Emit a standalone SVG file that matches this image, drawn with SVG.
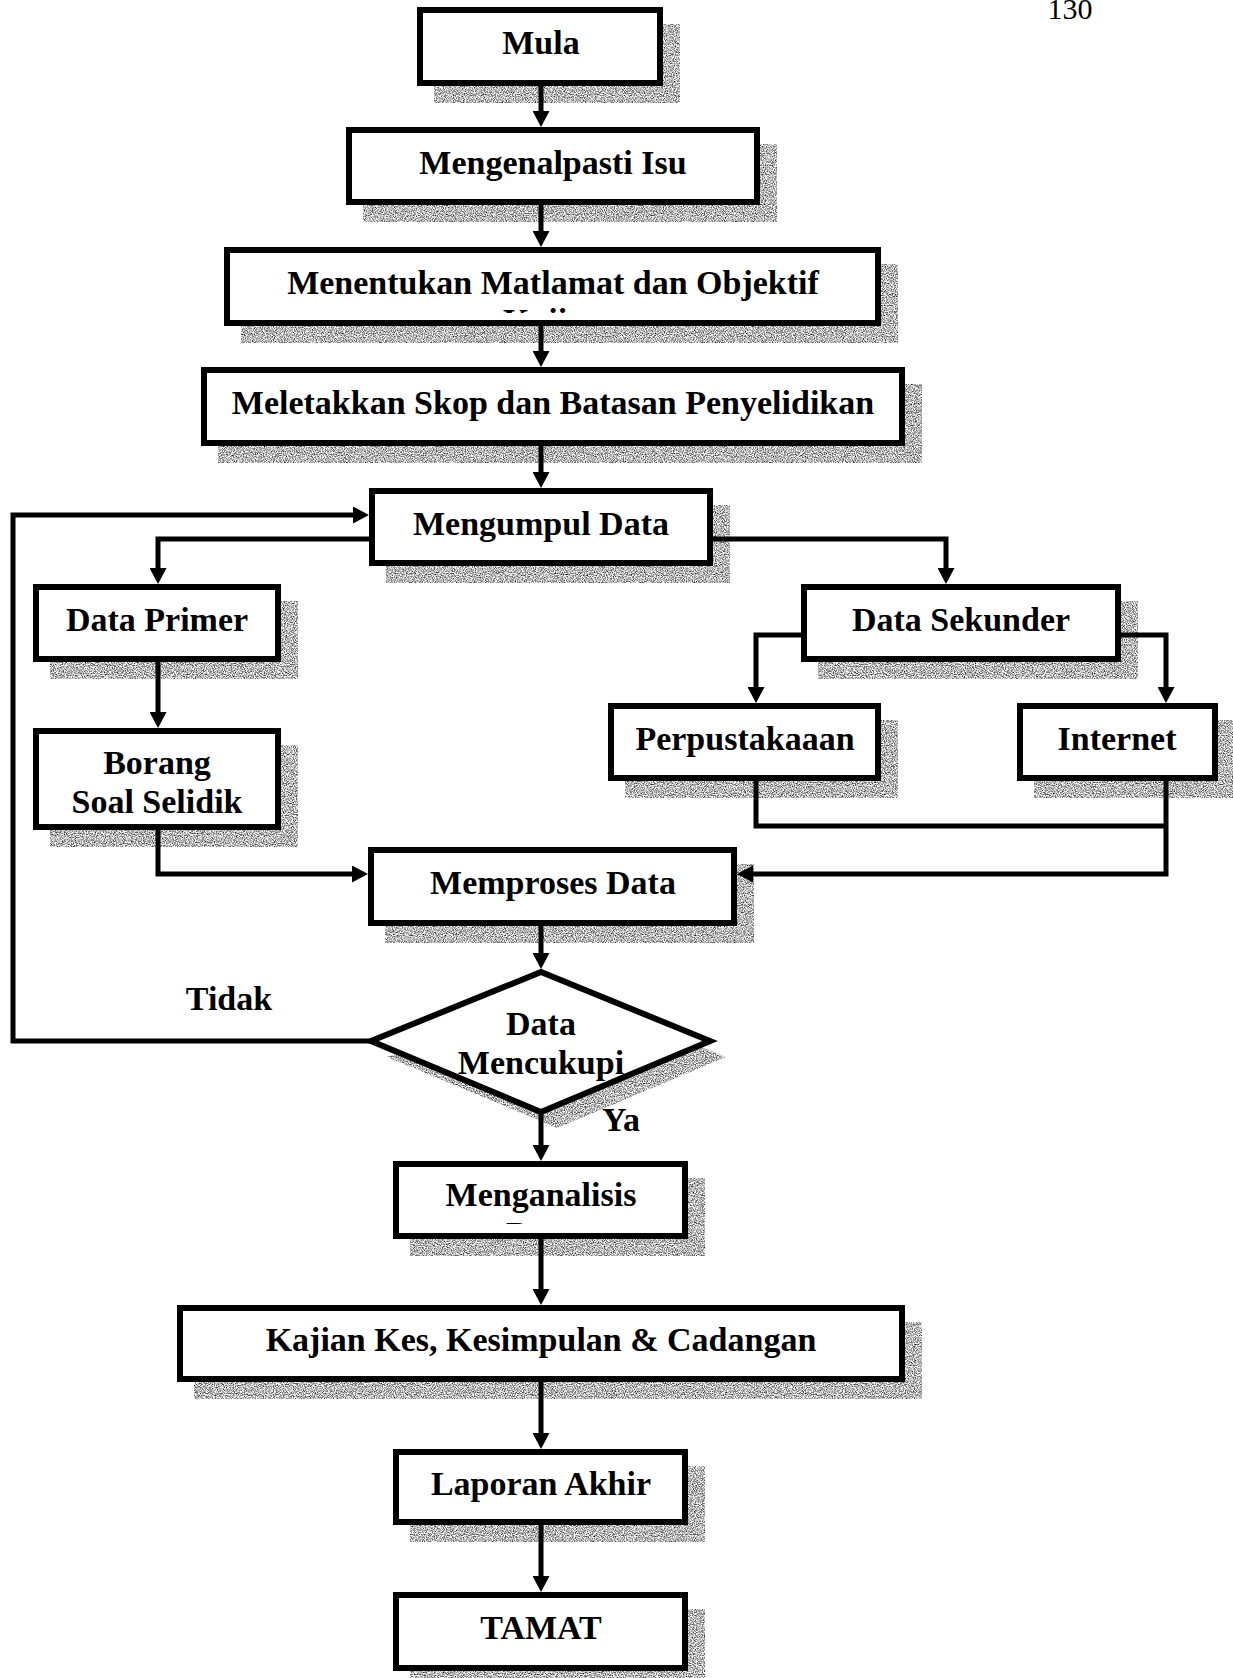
<svg xmlns="http://www.w3.org/2000/svg" width="1233" height="1678" viewBox="0 0 1233 1678">
<style>
  .box{fill:#fff;stroke:#000;stroke-width:6}
  .shadow{fill:#000}
  .lbl{font-family:"Liberation Serif","Times New Roman",serif;font-weight:bold;font-size:34px;text-anchor:middle;fill:#000}
  .page{font-family:"Liberation Serif","Times New Roman",serif;font-size:30px;text-anchor:middle;fill:#000}
  #connectors path{fill:none;stroke:#000;stroke-width:5;stroke-linejoin:miter}
  #connectors path.arrow{marker-end:url(#head)}
</style>
<defs>
  <!-- grainy grey fill used for the drop shadows -->
  <filter id="grain" x="-10%" y="-10%" width="120%" height="120%" color-interpolation-filters="sRGB">
    <feTurbulence type="fractalNoise" baseFrequency="0.9" numOctaves="2" seed="7" result="noise"/>
    <feColorMatrix in="noise" type="matrix" values="1.8 0 0 0 -0.18  1.8 0 0 0 -0.18  1.8 0 0 0 -0.18  0 0 0 0 1" result="gray"/>
    <feComposite in="gray" in2="SourceAlpha" operator="in"/>
  </filter>
  <marker id="head" markerUnits="userSpaceOnUse" markerWidth="17" markerHeight="17" refX="8" refY="8.5" orient="auto" viewBox="0 0 17 17">
    <path d="M0,0 L16,8.5 L0,17 Z" fill="#000"/>
  </marker>
  <!-- second text lines overflow their boxes and are cut off -->
  <clipPath id="clipObjektif"><rect x="230" y="253" width="645" height="60"/></clipPath>
  <clipPath id="clipAnalisis"><rect x="399" y="1167" width="283" height="57"/></clipPath>
</defs>

<rect width="1233" height="1678" fill="#fff"/>

<text class="page" x="1070" y="19">130</text>

<g id="mula">
  <rect class="shadow" filter="url(#grain)" x="434" y="24" width="246" height="79"/>
  <rect class="box" x="420" y="10" width="240" height="73"/>
  <text class="lbl" x="541" y="54">Mula</text>
</g>

<g id="kenal-isu">
  <rect class="shadow" filter="url(#grain)" x="363" y="144" width="414" height="78"/>
  <rect class="box" x="349" y="130" width="408" height="72"/>
  <text class="lbl" x="553" y="174">Mengenalpasti Isu</text>
</g>

<g id="matlamat">
  <rect class="shadow" filter="url(#grain)" x="241" y="264" width="657" height="79"/>
  <rect class="box" x="227" y="250" width="651" height="73"/>
  <g clip-path="url(#clipObjektif)">
    <text class="lbl" x="553" y="294">Menentukan Matlamat dan Objektif</text>
    <text class="lbl" x="553" y="332">Kajian</text>
  </g>
</g>

<g id="skop">
  <rect class="shadow" filter="url(#grain)" x="218" y="384" width="704" height="79"/>
  <rect class="box" x="204" y="370" width="698" height="73"/>
  <text class="lbl" x="553" y="414">Meletakkan Skop dan Batasan Penyelidikan</text>
</g>

<g id="kumpul-data">
  <rect class="shadow" filter="url(#grain)" x="386" y="505" width="344" height="78"/>
  <rect class="box" x="372" y="491" width="338" height="72"/>
  <text class="lbl" x="541" y="535">Mengumpul Data</text>
</g>

<g id="data-primer">
  <rect class="shadow" filter="url(#grain)" x="50" y="601" width="248" height="78"/>
  <rect class="box" x="36" y="587" width="242" height="72"/>
  <text class="lbl" x="157" y="631">Data Primer</text>
</g>

<g id="borang">
  <rect class="shadow" filter="url(#grain)" x="50" y="745" width="248" height="102"/>
  <rect class="box" x="36" y="731" width="242" height="96"/>
  <text class="lbl" x="157" y="774">Borang</text>
  <text class="lbl" x="157" y="813">Soal Selidik</text>
</g>

<g id="data-sekunder">
  <rect class="shadow" filter="url(#grain)" x="818" y="601" width="320" height="78"/>
  <rect class="box" x="804" y="587" width="314" height="72"/>
  <text class="lbl" x="961" y="631">Data Sekunder</text>
</g>

<g id="perpustakaan">
  <rect class="shadow" filter="url(#grain)" x="625" y="720" width="273" height="78"/>
  <rect class="box" x="611" y="706" width="267" height="72"/>
  <text class="lbl" x="745" y="750">Perpustakaaan</text>
</g>

<g id="internet">
  <rect class="shadow" filter="url(#grain)" x="1034" y="720" width="201" height="78"/>
  <rect class="box" x="1020" y="706" width="195" height="72"/>
  <text class="lbl" x="1117" y="750">Internet</text>
</g>

<g id="proses-data">
  <rect class="shadow" filter="url(#grain)" x="385" y="864" width="369" height="79"/>
  <rect class="box" x="371" y="850" width="363" height="73"/>
  <text class="lbl" x="553" y="894">Memproses Data</text>
</g>

<g id="cukup">
  <polygon class="shadow" filter="url(#grain)" points="387,1057 557,988 726,1057 557,1128"/>
  <polygon class="box" points="371,1041 541,972 710,1041 541,1112"/>
  <text class="lbl" x="541" y="1035">Data</text>
  <text class="lbl" x="541" y="1074">Mencukupi</text>
</g>

<g id="analisis">
  <rect class="shadow" filter="url(#grain)" x="410" y="1178" width="295" height="78"/>
  <rect class="box" x="396" y="1164" width="289" height="72"/>
  <g clip-path="url(#clipAnalisis)">
    <text class="lbl" x="541" y="1206">Menganalisis</text>
    <text class="lbl" x="541" y="1245">Data</text>
  </g>
</g>

<g id="kajian-kes">
  <rect class="shadow" filter="url(#grain)" x="194" y="1322" width="728" height="77"/>
  <rect class="box" x="180" y="1308" width="722" height="71"/>
  <text class="lbl" x="541" y="1351">Kajian Kes, Kesimpulan &amp; Cadangan</text>
</g>

<g id="laporan">
  <rect class="shadow" filter="url(#grain)" x="410" y="1466" width="295" height="76"/>
  <rect class="box" x="396" y="1452" width="289" height="70"/>
  <text class="lbl" x="541" y="1495">Laporan Akhir</text>
</g>

<g id="tamat">
  <rect class="shadow" filter="url(#grain)" x="410" y="1609" width="295" height="79"/>
  <rect class="box" x="396" y="1595" width="289" height="73"/>
  <text class="lbl" x="541" y="1639">TAMAT</text>
</g>

<g id="connectors">
  <path class="arrow" d="M541,83 V119"/>
  <path class="arrow" d="M541,202 V239"/>
  <path class="arrow" d="M541,323 V359"/>
  <path class="arrow" d="M541,443 V480"/>
  <path class="arrow" d="M372,539 H158 V576"/>
  <path class="arrow" d="M710,539 H946 V576"/>
  <path class="arrow" d="M158,659 V720"/>
  <path class="arrow" d="M158,827 V874 H360"/>
  <path class="arrow" d="M804,635 H756 V695"/>
  <path class="arrow" d="M1118,635 H1166 V695"/>
  <path d="M756,778 V826 H1166"/>
  <path class="arrow" d="M1166,778 V874 H745"/>
  <path class="arrow" d="M541,923 V961"/>
  <path class="arrow" d="M371,1041 H13 V515 H361"/>
  <path class="arrow" d="M541,1112 V1153"/>
  <path class="arrow" d="M541,1236 V1297"/>
  <path class="arrow" d="M541,1379 V1441"/>
  <path class="arrow" d="M541,1522 V1584"/>
</g>

<g id="labels">
  <text class="lbl" x="229" y="1010">Tidak</text>
  <text class="lbl" x="621" y="1131">Ya</text>
</g>
</svg>
